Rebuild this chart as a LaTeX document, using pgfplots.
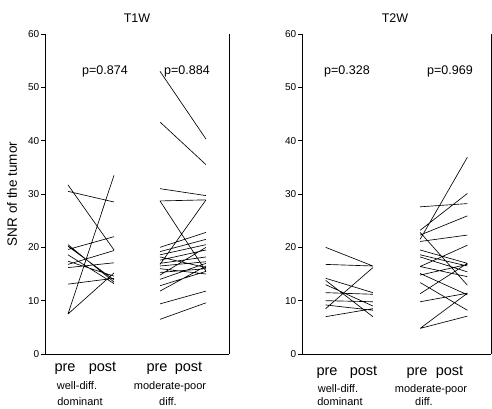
\documentclass[border=0pt]{standalone}
\usepackage{pgfplots}
\pgfplotsset{compat=1.18}
\usepackage{fontspec}
\setmainfont{Liberation Sans}
\newcommand{\fs}[1]{\fontsize{#1bp}{#1bp}\selectfont}
\pgfplotsset{panel/.style={
  scale only axis, height=320bp,
  ymin=0, ymax=60, ytick={0,10,...,60},
  xmin=0.5, xmax=4.5, xtick=\empty,
  axis x line=bottom, axis y line=box, ytick pos=left,
  tick align=outside, major tick length=4bp,
  tick style={black, line width=0.6pt},
  axis line style={-, line width=0.8pt},
  x axis line style={-}, y axis line style={-},
  yticklabel style={font=\fs{10}, inner sep=1.5bp},
  /pgf/number format/assume math mode=true,
  unbounded coords=jump, clip=false,
  cycle list={{black, no markers, line width=0.65pt}},
}}
\begin{document}
\begin{tikzpicture}[x=1bp,y=1bp]
\path[use as bounding box] (0,0) rectangle (492,408);
% ---------- T1W ----------
\begin{axis}[panel, width=184bp, at={(45bp,54bp)}, anchor=south west]
\addplot[black, no markers, line width=0.65pt] table[row sep=\\] {
x y\\
1 31.7\\ 2 19.5\\ nan nan\\
1 30.5\\ 2 28.5\\ nan nan\\
1 7.5\\ 2 33.5\\ nan nan\\
1 7.5\\ 2 15.2\\ nan nan\\
1 20.5\\ 2 13.5\\ nan nan\\
1 20.2\\ 2 13.9\\ nan nan\\
1 19.6\\ 2 22.0\\ nan nan\\
1 18.6\\ 2 13.2\\ nan nan\\
1 16.8\\ 2 19.4\\ nan nan\\
1 16.2\\ 2 17.1\\ nan nan\\
1 13.1\\ 2 14.2\\ nan nan\\
1 17.4\\ 2 14.6\\
};
\addplot[black, no markers, line width=0.65pt] table[row sep=\\] {
x y\\
3 53.0\\ 4 40.3\\ nan nan\\
3 43.5\\ 4 35.5\\ nan nan\\
3 31.0\\ 4 29.7\\ nan nan\\
3 28.7\\ 4 28.9\\ nan nan\\
3 28.7\\ 4 15.5\\ nan nan\\
3 16.8\\ 4 28.9\\ nan nan\\
3 20.0\\ 4 22.8\\ nan nan\\
3 19.2\\ 4 21.5\\ nan nan\\
3 18.6\\ 4 20.5\\ nan nan\\
3 18.2\\ 4 16.2\\ nan nan\\
3 17.6\\ 4 19.5\\ nan nan\\
3 17.0\\ 4 18.2\\ nan nan\\
3 16.5\\ 4 17.3\\ nan nan\\
3 16.0\\ 4 15.0\\ nan nan\\
3 15.3\\ 4 16.0\\ nan nan\\
3 14.8\\ 4 20.0\\ nan nan\\
3 14.0\\ 4 17.0\\ nan nan\\
3 12.8\\ 4 15.5\\ nan nan\\
3 11.8\\ 4 16.5\\ nan nan\\
3 9.4\\ 4 11.8\\ nan nan\\
3 6.5\\ 4 9.6\\
};
\end{axis}
% ---------- T2W ----------
\begin{axis}[panel, width=189bp, at={(302bp,54bp)}, anchor=south west]
\addplot[black, no markers, line width=0.65pt] table[row sep=\\] {
x y\\
1 20.0\\ 2 16.5\\ nan nan\\
1 16.8\\ 2 16.5\\ nan nan\\
1 14.2\\ 2 11.5\\ nan nan\\
1 13.8\\ 2 7.0\\ nan nan\\
1 13.0\\ 2 9.0\\ nan nan\\
1 11.5\\ 2 11.2\\ nan nan\\
1 10.0\\ 2 9.8\\ nan nan\\
1 9.2\\ 2 8.2\\ nan nan\\
1 8.5\\ 2 16.2\\ nan nan\\
1 7.0\\ 2 8.5\\
};
\addplot[black, no markers, line width=0.65pt] table[row sep=\\] {
x y\\
3 27.6\\ 4 28.2\\ nan nan\\
3 21.5\\ 4 36.9\\ nan nan\\
3 23.2\\ 4 30.1\\ nan nan\\
3 22.3\\ 4 25.9\\ nan nan\\
3 21.1\\ 4 22.3\\ nan nan\\
3 16.4\\ 4 20.4\\ nan nan\\
3 22.8\\ 4 12.9\\ nan nan\\
3 19.5\\ 4 17.0\\ nan nan\\
3 18.6\\ 4 16.5\\ nan nan\\
3 18.2\\ 4 15.4\\ nan nan\\
3 16.4\\ 4 14.5\\ nan nan\\
3 15.1\\ 4 11.1\\ nan nan\\
3 14.8\\ 4 16.8\\ nan nan\\
3 13.4\\ 4 8.2\\ nan nan\\
3 11.3\\ 4 17.0\\ nan nan\\
3 9.8\\ 4 11.4\\ nan nan\\
3 4.8\\ 4 7.1\\ nan nan\\
3 4.8\\ 4 11.4\\
};
\end{axis}
% ---------- texts ----------
\node[font=\fs{12.5}] at (137,390) {T1W};
\node[font=\fs{12.5}] at (395,390) {T2W};
\node[font=\fs{13.5}, rotate=90] at (12,214) {SNR of the tumor};
\node[font=\fs{12.5}] at (105,337) {p=0.874};
\node[font=\fs{12.5}] at (187,337) {p=0.884};
\node[font=\fs{12.5}] at (347,337) {p=0.328};
\node[font=\fs{12.5}] at (450,337) {p=0.969};
\foreach \xx/\yy/\tt in {65/37/pre, 102.5/37/post, 157/37/pre, 188.5/37/post,
                          327/33/pre, 363.5/33/post, 417/33/pre, 449.5/33/post}
  \node[font=\fs{14.5}, anchor=base, inner sep=0pt] at (\xx,\yy) {\tt};
\node[font=\fs{11}, anchor=base, inner sep=0pt] at (77,19) {well-diff.};
\node[font=\fs{11}, anchor=base, inner sep=0pt] at (80,3) {dominant};
\node[font=\fs{11}, anchor=base, inner sep=0pt] at (170,19) {moderate-poor};
\node[font=\fs{11}, anchor=base, inner sep=0pt] at (168,3) {diff.};
\node[font=\fs{11}, anchor=base, inner sep=0pt] at (338,15.5) {well-diff.};
\node[font=\fs{11}, anchor=base, inner sep=0pt] at (340,2.5) {dominant};
\node[font=\fs{11}, anchor=base, inner sep=0pt] at (431,15.5) {moderate-poor};
\node[font=\fs{11}, anchor=base, inner sep=0pt] at (424,2.5) {diff.};
\end{tikzpicture}
\end{document}
